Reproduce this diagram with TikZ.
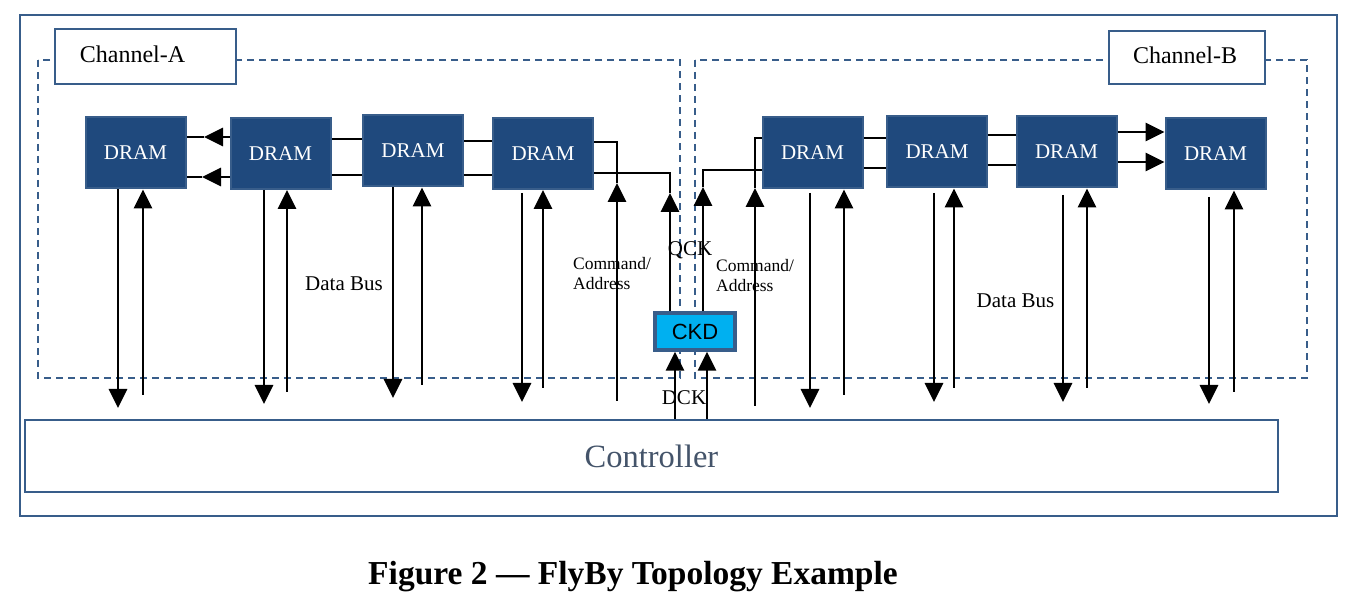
\documentclass[tikz,border=0pt]{standalone}
\usepackage{fontspec}
\setmainfont{Liberation Serif}
\newfontfamily\arialfont{Liberation Sans}
\usetikzlibrary{arrows.meta}
\definecolor{frameblue}{RGB}{56,93,138}
\definecolor{dramfill}{RGB}{31,73,125}
\definecolor{ckdcyan}{RGB}{0,176,240}
\definecolor{ctrltext}{RGB}{68,84,106}
\begin{document}
\begin{tikzpicture}[x=1pt,y=-1pt,
  dram/.style={draw=frameblue, line width=2pt, fill=dramfill, minimum width=100pt, minimum height=71pt, inner sep=0pt, text=white, font=\fontsize{21}{25}\selectfont},
  wire/.style={line width=2.8pt, black},
  arr/.style={wire, -{Triangle[length=19pt,width=18pt]}},
  chanbox/.style={draw=frameblue, line width=2pt, fill=white, inner sep=0pt},
  chandash/.style={draw=frameblue, line width=2pt, dash pattern=on 7pt off 5pt},
  lbl/.style={anchor=base, font=\fontsize{21}{25}\selectfont},
  cmdlbl/.style={anchor=base west, inner sep=0pt, font=\fontsize{17.5}{20}\selectfont}
]
\useasboundingbox (0,0) rectangle (1358,601);
\fill[white] (0,0) rectangle (1358,601);

% outer frame
\draw[frameblue, line width=2pt] (20,15) rectangle (1337,516);

% channel regions
\draw[chandash] (38,60) rectangle (680,378);
\draw[chandash] (695,60) rectangle (1307,378);
\node[chanbox, minimum width=181pt, minimum height=55pt] (chA) at (145.5,56.5) {};
\node[lbl, font=\fontsize{24}{28}\selectfont] (chAtext) at (132.5,63) {Channel-A};
\node[chanbox, minimum width=156pt, minimum height=53pt] (chB) at (1187,57.5) {};
\node[lbl, font=\fontsize{24}{28}\selectfont] (chBtext) at (1185,64) {Channel-B};

% DRAMs
\node[dram] (d1) at (135.5,153) {DRAM};
\node[dram] (d2) at (280.5,153.5) {DRAM};
\node[dram] (d3) at (413,151) {DRAM};
\node[dram] (d4) at (543,153.5) {DRAM};
\node[dram] (d5) at (812.5,153) {DRAM};
\node[dram] (d6) at (937,152) {DRAM};
\node[dram] (d7) at (1066.5,152) {DRAM};
\node[dram] (d8) at (1215.5,154) {DRAM};

% CKD and controller
\node[draw=frameblue, line width=3.5pt, fill=ckdcyan, minimum width=80pt, minimum height=37pt, inner sep=0pt, font=\arialfont\fontsize{22}{26}\selectfont] (ckd) at (695,331.5) {CKD};
\node[draw=frameblue, line width=2pt, minimum width=1253pt, minimum height=72pt, inner sep=0pt, text=ctrltext, font=\fontsize{32.5}{38}\selectfont] (ctrl) at (651.5,456) {Controller};

% Channel A daisy chain
\coordinate (a12t) at (204,137);
\coordinate (a12b) at (202,177);
\draw[arr] (d2.west |- a12t) -- (a12t);
\draw[wire] (a12t) -- (d1.east |- a12t);
\draw[arr] (d2.west |- a12b) -- (a12b);
\draw[wire] (a12b) -- (d1.east |- a12b);
\draw[wire] (d3.west |- 0,139) -- (d2.east |- 0,139);
\draw[wire] (d3.west |- 0,175) -- (d2.east |- 0,175);
\draw[wire] (d4.west |- 0,141) -- (d3.east |- 0,141);
\draw[wire] (d4.west |- 0,175) -- (d3.east |- 0,175);

% Channel A command/address and QCK
\coordinate (cAbot) at (617,401);
\coordinate (cAtip) at (617,183);
\coordinate (cAtop) at (617,142);
\draw[arr] (cAbot) -- (cAtip);
\draw[wire] (cAtip) -- (cAtop) -- (d4.east |- cAtop);
\coordinate (qAtip) at (670,193);
\coordinate (qAtop) at (670,173);
\draw[arr] (ckd.north -| qAtip) -- (qAtip);
\draw[wire] (qAtip) -- (qAtop) -- (d4.east |- qAtop);

% Channel B command/address and QCK
\coordinate (cBbot) at (755,406);
\coordinate (cBtip) at (755,188);
\coordinate (cBtop) at (755,138);
\draw[arr] (cBbot) -- (cBtip);
\draw[wire] (cBtip) -- (cBtop) -- (d5.west |- cBtop);
\coordinate (qBtip) at (703,187);
\coordinate (qBtop) at (703,170);
\draw[arr] (ckd.north -| qBtip) -- (qBtip);
\draw[wire] (qBtip) -- (qBtop) -- (d5.west |- qBtop);

% Channel B daisy chain
\draw[wire] (d5.east |- 0,138) -- (d6.west |- 0,138);
\draw[wire] (d5.east |- 0,168) -- (d6.west |- 0,168);
\draw[wire] (d6.east |- 0,135) -- (d7.west |- 0,135);
\draw[wire] (d6.east |- 0,165) -- (d7.west |- 0,165);
\draw[arr] (d7.east |- 0,132) -- (d8.west |- 0,132);
\draw[arr] (d7.east |- 0,162) -- (d8.west |- 0,162);

% DCK
\draw[arr] (675,0 |- ctrl.north) -- (675,0 |- ckd.south);
\draw[arr] (707,0 |- ctrl.north) -- (707,0 |- ckd.south);

% Data bus arrows, channel A
\draw[arr] (118,0 |- d1.south) -- (118,408);
\draw[arr] (143,395) -- (143,0 |- d1.south);
\draw[arr] (264,0 |- d2.south) -- (264,404);
\draw[arr] (287,392) -- (287,0 |- d2.south);
\draw[arr] (393,0 |- d3.south) -- (393,398);
\draw[arr] (422,385) -- (422,0 |- d3.south);
\draw[arr] (522,193) -- (522,402);
\draw[arr] (543,388) -- (543,0 |- d4.south);

% Data bus arrows, channel B
\draw[arr] (810,193) -- (810,408);
\draw[arr] (844,395) -- (844,0 |- d5.south);
\draw[arr] (934,193) -- (934,402);
\draw[arr] (954,388) -- (954,0 |- d6.south);
\draw[arr] (1063,195) -- (1063,402);
\draw[arr] (1087,388) -- (1087,0 |- d7.south);
\draw[arr] (1209,197) -- (1209,404);
\draw[arr] (1234,392) -- (1234,0 |- d8.south);

% labels
\node[lbl] (dbA) at (344,291) {Data Bus};
\node[lbl] (dbB) at (1015.5,308) {Data Bus};
\node[cmdlbl] (caA1) at (573,270) {Command/};
\node[cmdlbl] (caA2) at (573,290) {Address};
\node[cmdlbl] (caB1) at (716,272) {Command/};
\node[cmdlbl] (caB2) at (716,292) {Address};
\node[lbl] (qck) at (690,256) {QCK};
\node[lbl] (dck) at (684,405) {DCK};

% caption
\node[anchor=base, font=\bfseries\fontsize{33.5}{40}\selectfont] (cap) at (633,584) {Figure 2 — FlyBy Topology Example};
\end{tikzpicture}
\end{document}
